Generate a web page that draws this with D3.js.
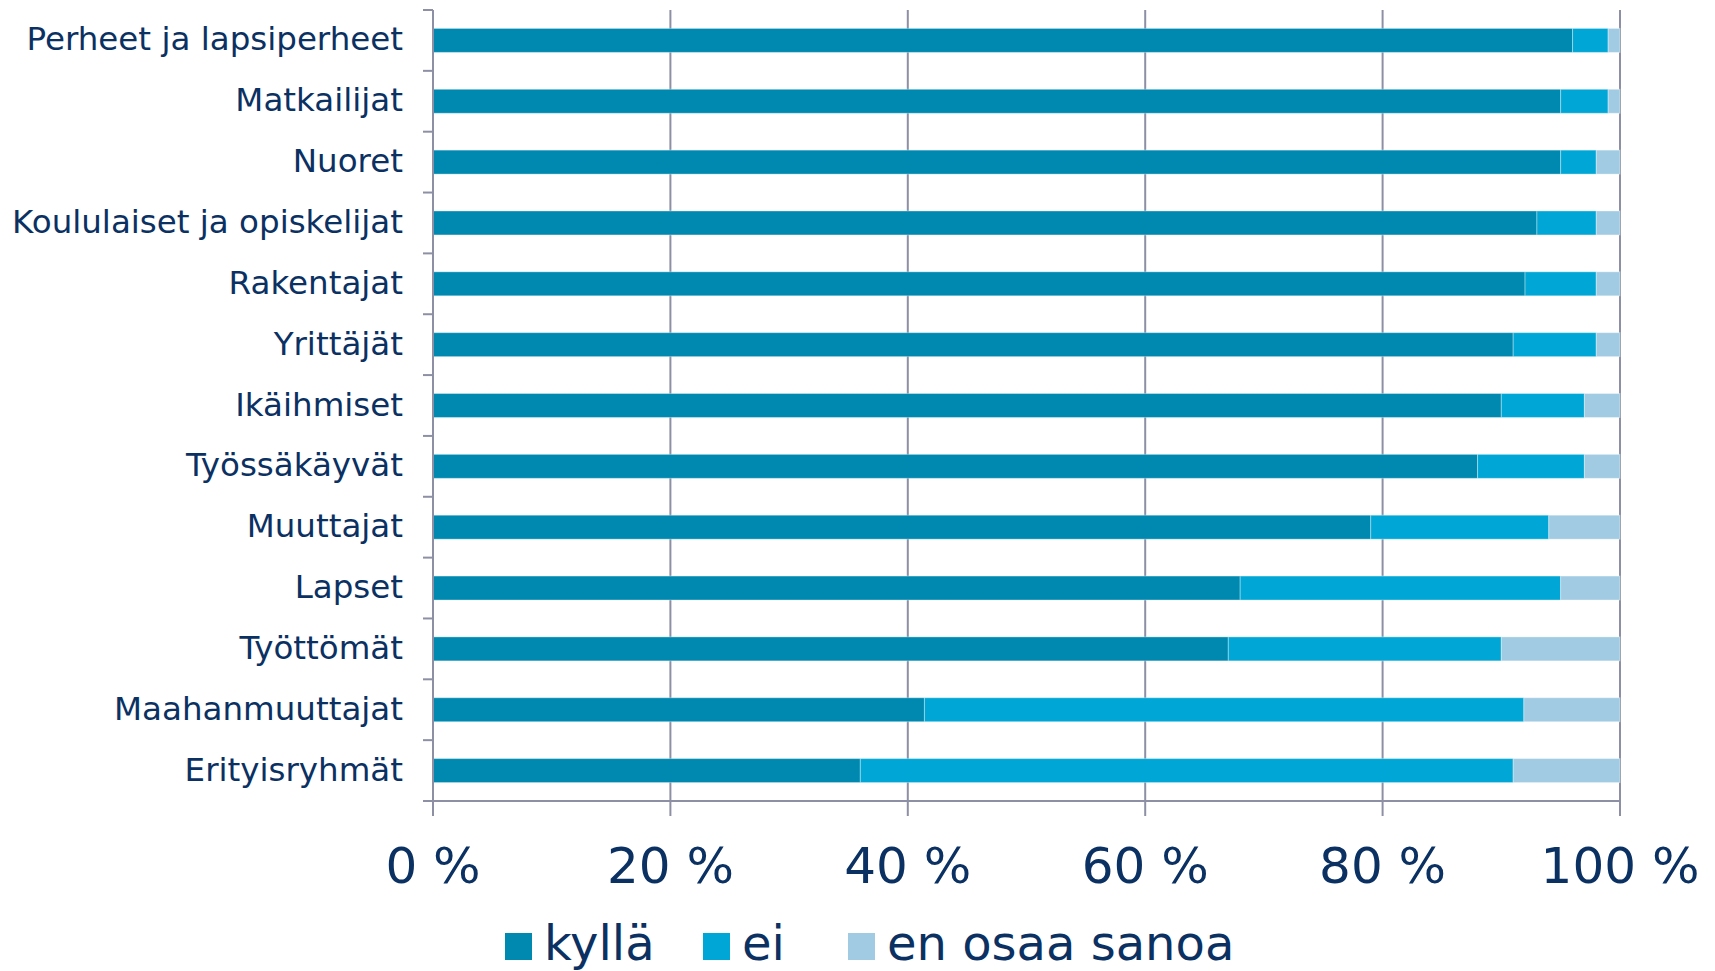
<!DOCTYPE html>
<html>
<head>
<meta charset="utf-8">
<script src="https://cdn.jsdelivr.net/npm/d3@7"></script>
<style>
  html, body { margin: 0; padding: 0; background: #ffffff; }
  svg { display: block; }
  text { font-family: "DejaVu Sans", Verdana, sans-serif; fill: #0b3163; }
</style>
</head>
<body>
<svg id="chart" width="1715" height="971"></svg>
<script>
// ---- data ----
const categories = [
  "Perheet ja lapsiperheet", "Matkailijat", "Nuoret", "Koululaiset ja opiskelijat",
  "Rakentajat", "Yrittäjät", "Ikäihmiset", "Työssäkäyvät", "Muuttajat", "Lapset",
  "Työttömät", "Maahanmuuttajat", "Erityisryhmät"
];
const seriesNames = ["kyllä", "ei", "en osaa sanoa"];
const kylla = [96, 95, 95, 93, 92, 91, 90, 88, 79, 68, 67, 41.4, 36];
const ei    = [3, 4, 3, 5, 6, 7, 7, 9, 15, 27, 23, 50.5, 55];
const eos   = [1, 1, 2, 2, 2, 2, 3, 3, 6, 5, 10, 8.1, 9];
const tickValues = [0, 0.2, 0.4, 0.6, 0.8, 1.0];
const tickLabels = ["0 %", "20 %", "40 %", "60 %", "80 %", "100 %"];

// ---- style / layout ----
const colors = ["#0089b0", "#00a7d6", "#a1cbe3"];
const gridColor = "#8d90a4";
const plot = { left: 433, right: 1620, top: 10, bottom: 801 };
const legendLayout = { y: 933, size: 27, textGap: 12, xs: [505, 703, 848] };

const svg = d3.select("#chart");

const rows = categories.map((c, i) => {
  const vals = [kylla[i], ei[i], eos[i]];
  const total = d3.sum(vals);
  return { cat: c, kylla: kylla[i] / total, ei: ei[i] / total, eos: eos[i] / total };
});

const keys = ["kylla", "ei", "eos"];
const stack = d3.stack().keys(keys)(rows);

const x = d3.scaleLinear().domain([0, 1]).range([plot.left, plot.right]);
const y = d3.scaleBand().domain(categories).range([plot.top, plot.bottom])
  .paddingInner(0.606).paddingOuter(0.303);

// gridlines (vertical) incl. extension as ticks below axis
svg.append("g")
  .selectAll("line")
  .data(tickValues.filter(v => v > 0))
  .join("line")
  .attr("x1", d => x(d)).attr("x2", d => x(d))
  .attr("y1", plot.top).attr("y2", plot.bottom + 15)
  .attr("stroke", gridColor).attr("stroke-width", 2);

// bars
svg.append("g")
  .selectAll("g")
  .data(stack)
  .join("g")
  .attr("fill", (d, i) => colors[i])
  .selectAll("rect")
  .data(d => d.map(s => ({ s, cat: s.data.cat })))
  .join("rect")
  .attr("x", d => x(d.s[0]))
  .attr("width", d => x(d.s[1]) - x(d.s[0]))
  .attr("y", d => y(d.cat))
  .attr("height", y.bandwidth())
  .attr("stroke", "rgba(255,255,255,0.35)")
  .attr("stroke-width", 1);

// y axis (left) with ticks at band boundaries
const step = y.step();
const boundaries = d3.range(categories.length + 1).map(i => plot.top + i * step);
svg.append("line")
  .attr("x1", plot.left).attr("x2", plot.left)
  .attr("y1", plot.top).attr("y2", plot.bottom + 15)
  .attr("stroke", gridColor).attr("stroke-width", 2);
svg.append("g").selectAll("line").data(boundaries).join("line")
  .attr("x1", plot.left - 10).attr("x2", plot.left)
  .attr("y1", d => d).attr("y2", d => d)
  .attr("stroke", gridColor).attr("stroke-width", 2);

// x axis line
svg.append("line")
  .attr("x1", plot.left - 10).attr("x2", plot.right)
  .attr("y1", plot.bottom).attr("y2", plot.bottom)
  .attr("stroke", gridColor).attr("stroke-width", 2);

// category labels
svg.append("g").selectAll("text").data(categories).join("text")
  .attr("x", plot.left - 30)
  .attr("y", d => y(d) + y.bandwidth() / 2)
  .attr("dy", "0.31em")
  .attr("text-anchor", "end")
  .style("font-size", "32.5px")
  .text(d => d);

// x tick labels
svg.append("g").selectAll("text").data(tickValues).join("text")
  .attr("x", d => x(d))
  .attr("y", 883)
  .attr("text-anchor", "middle")
  .style("font-size", "50px")
  .text((d, i) => tickLabels[i]);

// legend
const lg = svg.append("g").selectAll("g").data(seriesNames).join("g")
  .attr("transform", (d, i) => `translate(${legendLayout.xs[i]},${legendLayout.y})`);
lg.append("rect")
  .attr("width", legendLayout.size).attr("height", legendLayout.size)
  .attr("fill", (d, i) => colors[i]);
lg.append("text")
  .attr("x", legendLayout.size + legendLayout.textGap)
  .attr("y", legendLayout.size)
  .style("font-size", "48px")
  .text(d => d);
</script>
</body>
</html>
